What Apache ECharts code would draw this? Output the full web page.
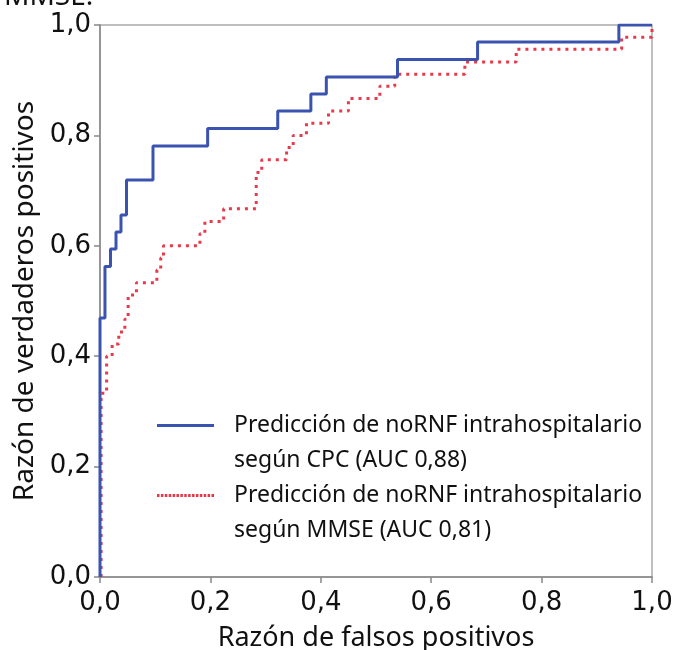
<!DOCTYPE html>
<html>
<head>
<meta charset="utf-8">
<script src="https://cdn.jsdelivr.net/npm/echarts@6/dist/echarts.min.js"></script>
<style>
html,body{margin:0;padding:0;background:#fff;}
#chart{width:678px;height:650px;}
</style>
</head>
<body>
<div id="chart"></div>
<script>
// ROC curve corner points (false positive rate, true positive rate)
var cpcFpr = [0, 0, 0.009, 0.009, 0.019, 0.019, 0.029, 0.029, 0.038, 0.038, 0.048, 0.048, 0.096, 0.096, 0.195, 0.195, 0.322, 0.322, 0.382, 0.382, 0.41, 0.41, 0.539, 0.539, 0.684, 0.684, 0.94, 0.94, 1];
var cpcTpr = [0, 0.469, 0.469, 0.5625, 0.5625, 0.594, 0.594, 0.625, 0.625, 0.656, 0.656, 0.719, 0.719, 0.781, 0.781, 0.8125, 0.8125, 0.844, 0.844, 0.875, 0.875, 0.906, 0.906, 0.9375, 0.9375, 0.969, 0.969, 1, 1];

var mmseFpr = [0.002, 0.002, 0.012, 0.012, 0.022, 0.022, 0.034, 0.034, 0.045, 0.045, 0.051, 0.051, 0.066, 0.066, 0.103, 0.103, 0.11, 0.11, 0.115, 0.115, 0.181, 0.181, 0.19, 0.19, 0.224, 0.224, 0.283, 0.283, 0.293, 0.293, 0.338, 0.338, 0.35, 0.35, 0.374, 0.374, 0.414, 0.414, 0.45, 0.45, 0.507, 0.507, 0.534, 0.534, 0.661, 0.661, 0.754, 0.754, 0.945, 0.945, 1, 1];
var mmseTpr = [0, 0.333, 0.333, 0.40, 0.40, 0.422, 0.422, 0.444, 0.444, 0.467, 0.467, 0.511, 0.511, 0.533, 0.533, 0.556, 0.556, 0.578, 0.578, 0.60, 0.60, 0.622, 0.622, 0.644, 0.644, 0.667, 0.667, 0.733, 0.733, 0.756, 0.756, 0.778, 0.778, 0.80, 0.80, 0.822, 0.822, 0.844, 0.844, 0.867, 0.867, 0.889, 0.889, 0.911, 0.911, 0.933, 0.933, 0.956, 0.956, 0.978, 0.978, 1];

var seriesNames = ['CPC', 'MMSE'];
var legendLines = [
  ['Predicción de noRNF intrahospitalario', 'según CPC (AUC 0,88)'],
  ['Predicción de noRNF intrahospitalario', 'según MMSE (AUC 0,81)']
];
var xTitle = 'Razón de falsos positivos';
var yTitle = 'Razón de verdaderos positivos';

function pairs(xs, ys) { return xs.map(function (x, i) { return [x, ys[i]]; }); }
function fmt(v) { return v.toFixed(1).replace('.', ','); }

var FONT = 'Noto Sans';
var TICKFONT = 'DejaVu Sans';
var BLUE = '#3a53b0', RED = '#e8394b';

// dotted legend icon path
var dotPath = 'path://';
for (var i = 0; i < 15; i++) { var x0 = i * 4; dotPath += 'M' + x0 + ',0L' + (x0 + 2.6) + ',0L' + (x0 + 2.6) + ',3L' + x0 + ',3Z'; }

var chart = echarts.init(document.getElementById('chart'), null, { renderer: 'canvas' });

function legendText() {
  return {
    fontFamily: FONT, fontSize: 23, color: '#111', lineHeight: 35,
    rich: { a: { fontFamily: FONT, fontSize: 23, color: '#111', lineHeight: 35, padding: [0, 0, 0, 15] } }
  };
}
function legendFormatter(name) {
  var idx = seriesNames.indexOf(name);
  return '{a| }\n{a|' + legendLines[idx][0] + '}\n{a|' + legendLines[idx][1] + '}';
}

chart.setOption({
  animation: false,
  backgroundColor: '#fff',
  grid: { left: 100, right: 26, top: 25, bottom: 73, containLabel: false, outerBoundsMode: 'none',
    show: true, borderColor: '#aaa', borderWidth: 1.5, backgroundColor: 'transparent' },
  xAxis: {
    type: 'value', min: 0, max: 1, interval: 0.2,
    name: xTitle, nameLocation: 'middle', nameGap: 48,
    nameTextStyle: { fontFamily: FONT, fontSize: 27, color: '#111' },
    axisLine: { lineStyle: { color: '#888', width: 1.5 } },
    axisTick: { show: true, length: 6, lineStyle: { color: '#888', width: 1.5 } },
    axisLabel: { fontFamily: TICKFONT, fontSize: 26, color: '#111', margin: 13, formatter: fmt },
    splitLine: { show: false }
  },
  yAxis: {
    type: 'value', min: 0, max: 1, interval: 0.2,
    name: yTitle, nameLocation: 'middle', nameGap: 58,
    nameTextStyle: { fontFamily: FONT, fontSize: 28, color: '#111' },
    axisLine: { lineStyle: { color: '#888', width: 1.5 } },
    axisTick: { show: true, length: 6, lineStyle: { color: '#888', width: 1.5 } },
    axisLabel: { fontFamily: TICKFONT, fontSize: 26, color: '#111', margin: 9, formatter: fmt },
    splitLine: { show: false }
  },
  legend: [
    { data: [seriesNames[0]], left: 152, top: 368, itemWidth: 57, itemHeight: 14,
      icon: 'path://M0,0L57,0L57,3L0,3Z', formatter: legendFormatter, textStyle: legendText() },
    { data: [seriesNames[1]], left: 152, top: 438, itemWidth: 57, itemHeight: 14,
      icon: dotPath, formatter: legendFormatter, textStyle: legendText() }
  ],
  graphic: [
    { type: 'text', left: 4, top: -17, style: { text: 'MMSE.', fontFamily: FONT, fontSize: 28, fill: '#111' } }
  ],
  series: [
    {
      name: seriesNames[0], type: 'line', data: pairs(cpcFpr, cpcTpr), showSymbol: false, symbol: 'none',
      lineStyle: { color: BLUE, width: 3 }, itemStyle: { color: BLUE }, z: 3
    },
    {
      name: seriesNames[1], type: 'line', data: pairs(mmseFpr, mmseTpr), showSymbol: false, symbol: 'none',
      lineStyle: { color: RED, width: 3, type: [3, 5] }, itemStyle: { color: RED }, z: 2
    }
  ]
});
</script>
</body>
</html>
